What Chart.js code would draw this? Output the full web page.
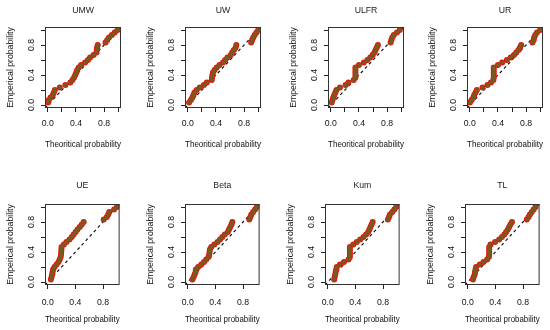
<!DOCTYPE html>
<html>
<head>
<meta charset="utf-8">
<script src="https://cdn.jsdelivr.net/npm/chart.js@4.4.0/dist/chart.umd.min.js"></script>
<style>
  html, body { margin: 0; padding: 0; background: #fff; }
  #wrap { position: relative; width: 550px; height: 330px; overflow: hidden; }
  #wrap canvas { position: absolute; }
</style>
</head>
<body>
<div id="wrap"></div>
<script>
// models, one panel each
const modelNames = ['UMW', 'UW', 'ULFR', 'UR', 'UE', 'Beta', 'Kum', 'TL'];

// empirical probabilities (shared y values)
const empirical = [0.033, 0.067, 0.100, 0.133, 0.167, 0.200, 0.233, 0.267, 0.300, 0.333,
                   0.367, 0.400, 0.433, 0.467, 0.500, 0.533, 0.567, 0.600, 0.633, 0.667,
                   0.700, 0.733, 0.767, 0.800, 0.833, 0.867, 0.900, 0.933, 0.967, 1.000];

// theoritical probabilities
const umwTheo  = [0.005, 0.014, 0.040, 0.071, 0.086, 0.100, 0.170, 0.250, 0.320, 0.350,
                  0.373, 0.390, 0.405, 0.418, 0.440, 0.473, 0.530, 0.570, 0.600, 0.650,
                  0.692, 0.696, 0.700, 0.710, 0.820, 0.845, 0.870, 0.910, 0.950, 0.990];
const uwTheo   = [0.018, 0.044, 0.064, 0.080, 0.095, 0.125, 0.170, 0.228, 0.270, 0.340,
                  0.344, 0.350, 0.358, 0.380, 0.410, 0.450, 0.500, 0.530, 0.563, 0.610,
                  0.630, 0.655, 0.680, 0.690, 0.900, 0.915, 0.930, 0.950, 0.975, 1.000];
const ulfrTheo = [0.013, 0.024, 0.035, 0.050, 0.065, 0.080, 0.130, 0.210, 0.250, 0.325,
                  0.350, 0.350, 0.350, 0.350, 0.350, 0.400, 0.470, 0.520, 0.560, 0.594,
                  0.620, 0.636, 0.653, 0.670, 0.850, 0.860, 0.873, 0.895, 0.940, 0.980];
const urTheo   = [0.002, 0.025, 0.050, 0.063, 0.082, 0.100, 0.180, 0.250, 0.300, 0.335,
                  0.340, 0.340, 0.340, 0.340, 0.340, 0.400, 0.460, 0.527, 0.580, 0.627,
                  0.660, 0.690, 0.713, 0.730, 0.890, 0.907, 0.915, 0.930, 0.955, 1.000];
const ueTheo   = [0.045, 0.055, 0.062, 0.070, 0.077, 0.098, 0.127, 0.155, 0.173, 0.187,
                  0.192, 0.195, 0.197, 0.200, 0.233, 0.270, 0.315, 0.347, 0.375, 0.403,
                  0.430, 0.463, 0.493, 0.520, 0.810, 0.855, 0.875, 0.890, 0.960, 1.000];
const betaTheo = [0.067, 0.085, 0.100, 0.113, 0.117, 0.150, 0.195, 0.235, 0.267, 0.300,
                  0.310, 0.316, 0.320, 0.340, 0.384, 0.430, 0.467, 0.500, 0.536, 0.580,
                  0.597, 0.615, 0.633, 0.645, 0.890, 0.906, 0.920, 0.946, 0.974, 1.000];
const kumTheo  = [0.093, 0.100, 0.108, 0.115, 0.123, 0.130, 0.176, 0.234, 0.300, 0.320,
                  0.320, 0.320, 0.320, 0.320, 0.370, 0.420, 0.470, 0.517, 0.555, 0.585,
                  0.603, 0.618, 0.634, 0.650, 0.870, 0.886, 0.900, 0.933, 0.963, 0.990];
const tlTheo   = [0.075, 0.085, 0.100, 0.105, 0.113, 0.120, 0.173, 0.227, 0.280, 0.305,
                  0.310, 0.310, 0.310, 0.310, 0.330, 0.395, 0.455, 0.495, 0.530, 0.555,
                  0.580, 0.599, 0.618, 0.640, 0.855, 0.880, 0.900, 0.926, 0.953, 0.980];

const theoByModel = [umwTheo, uwTheo, ulfrTheo, urTheo, ueTheo, betaTheo, kumTheo, tlTheo];

// axis ticks (R style: labels dropped where they would overlap)
const probTicks = [0, 0.2, 0.4, 0.6, 0.8, 1];
const probTickLabels = ['0.0', '', '0.4', '', '0.8', ''];
const axisRange = [-0.04, 1.04];

// layout: plot box left/top of each panel
const panelBoxes = [[45, 27], [185, 27], [328, 27], [467, 27],
                    [45, 204], [185, 204], [325, 204], [465, 204]];
const boxW = 76, boxH = 81, leftW = 45, topH = 27, bottomH = 45, rightPad = 4;

const fontFamily = '"Liberation Sans", Arial, Helvetica, sans-serif';

const boxPlugin = {
  id: 'box',
  afterDatasetsDraw(chart) {
    const { ctx, chartArea: a } = chart;
    ctx.save();
    ctx.strokeStyle = '#333';
    ctx.lineWidth = 1;
    ctx.strokeRect(a.left + 0.5, a.top + 0.5, a.right - a.left - 1, a.bottom - a.top - 1);
    ctx.restore();
  }
};

const wrap = document.getElementById('wrap');

modelNames.forEach((name, i) => {
  const [bx, by] = panelBoxes[i];
  const row = i < 4 ? 0 : 1;
  const canvas = document.createElement('canvas');
  canvas.width = leftW + boxW + rightPad;
  canvas.height = topH + boxH + bottomH;
  canvas.style.left = (bx - leftW) + 'px';
  canvas.style.top = (by - topH) + 'px';
  wrap.appendChild(canvas);

  const pts = empirical.map((y, k) => ({ x: theoByModel[i][k], y: y }));
  const diag = axisRange.map(v => ({ x: v, y: v }));

  const tickOpts = {
    font: { family: fontFamily, size: 8.7 },
    color: '#111',
    callback: (v, idx) => probTickLabels[idx]
  };
  const gridOpts = { drawOnChartArea: false, drawTicks: true, tickLength: 4, color: '#222', lineWidth: 1 };
  const setTicks = (scale) => { scale.ticks = probTicks.map(v => ({ value: v })); };

  new Chart(canvas, {
    type: 'scatter',
    data: {
      datasets: [
        {
          data: pts,
          showLine: false,
          pointRadius: 2.1,
          pointBackgroundColor: '#7a5a1c',
          pointBorderWidth: 0
        },
        {
          data: pts,
          showLine: false,
          pointRadius: 3,
          pointBackgroundColor: '#e3140f',
          pointBorderWidth: 0
        },
        {
          data: diag,
          showLine: true,
          borderColor: '#111',
          borderWidth: 1.2,
          borderDash: [3, 3],
          pointRadius: 0
        }
      ]
    },
    options: {
      responsive: false,
      animation: false,
      devicePixelRatio: 1,
      layout: { padding: { left: 0, right: rightPad, top: 0, bottom: 0 } },
      plugins: {
        legend: { display: false },
        tooltip: { enabled: false },
        title: {
          display: true,
          text: name,
          fullSize: false,
          color: '#222',
          font: { family: fontFamily, size: 8.7, weight: 'normal' },
          padding: row === 0 ? { top: 5, bottom: 11.56 } : { top: 3, bottom: 13.56 }
        }
      },
      scales: {
        x: {
          type: 'linear',
          min: axisRange[0],
          max: axisRange[1],
          afterBuildTicks: setTicks,
          afterFit: (s) => { s.height = bottomH; },
          ticks: Object.assign({ padding: row === 0 ? 6 : 8, maxRotation: 0 }, tickOpts),
          grid: gridOpts,
          border: { display: false },
          title: {
            display: true,
            text: 'Theoritical probability',
            color: '#111',
            font: { family: fontFamily, size: 9 },
            padding: { top: 0, bottom: row === 0 ? 3 : 5 }
          }
        },
        y: {
          type: 'linear',
          min: axisRange[0],
          max: axisRange[1],
          afterBuildTicks: setTicks,
          afterFit: (s) => { s.width = leftW; },
          ticks: Object.assign({ padding: 3, minRotation: 90, maxRotation: 90, crossAlign: 'center' }, tickOpts),
          grid: gridOpts,
          border: { display: false },
          title: {
            display: true,
            text: 'Emperical probability',
            color: '#111',
            font: { family: fontFamily, size: 8.7 },
            padding: { top: 5, bottom: 0 }
          }
        }
      }
    },
    plugins: [boxPlugin]
  });
});
</script>
</body>
</html>
